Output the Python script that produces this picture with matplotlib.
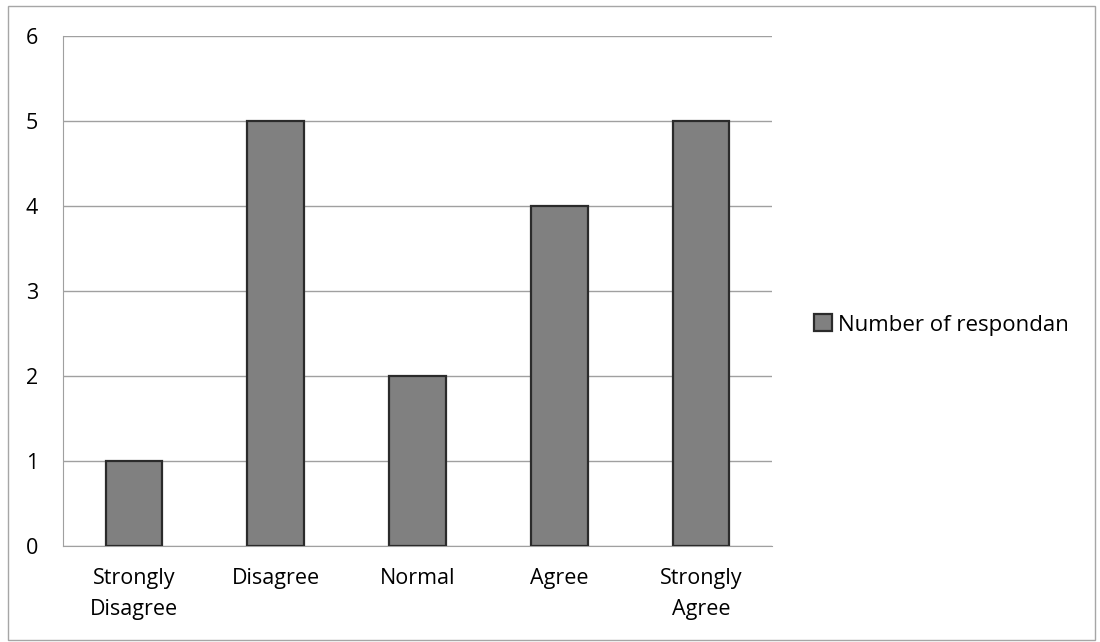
import matplotlib
matplotlib.use("Agg")
import matplotlib.pyplot as plt
from matplotlib.patches import Rectangle

categories = ["Strongly\nDisagree", "Disagree", "Normal", "Agree", "Strongly\nAgree"]
respondents = [1, 5, 2, 4, 5]
yticks = [0, 1, 2, 3, 4, 5, 6]
series_name = "Number of respondan"

plt.rcParams["font.family"] = ["Open Sans", "DejaVu Sans"]

W, H = 1100, 642
fig = plt.figure(figsize=(W / 100, H / 100), dpi=100)
fig.patch.set_facecolor("white")

# outer chart frame
fig.add_artist(Rectangle((8 / W, 1 - 640 / H), (1095 - 8) / W, (640 - 6) / H,
                         transform=fig.transFigure, fill=False,
                         edgecolor="#a6a6a6", linewidth=1.0))

left, right, top, bottom = 63, 772, 36, 546
ax = fig.add_axes([left / W, 1 - bottom / H, (right - left) / W, (bottom - top) / H])

x = list(range(len(categories)))
ax.bar(x, respondents, width=0.40, color="#808080", edgecolor="#2b2b2b",
       linewidth=1.6, label=series_name, zorder=3)

ax.set_xlim(-0.5, len(categories) - 0.5)
ax.set_ylim(0, 6)
ax.set_yticks(yticks)
ax.set_yticklabels([str(t) for t in yticks], fontsize=15.5)
ax.set_xticks(x)
ax.set_xticklabels(categories, fontsize=15.5, linespacing=1.6)
ax.tick_params(axis="both", length=0)
ax.tick_params(axis="y", pad=18)
ax.tick_params(axis="x", pad=16)
ax.yaxis.grid(True, color="#a0a0a0", linewidth=1.0, zorder=0)

for side in ["top", "right"]:
    ax.spines[side].set_visible(False)
ax.spines["left"].set_color("#a0a0a0")
ax.spines["bottom"].set_color("#a0a0a0")

leg = fig.legend(loc="center left", bbox_to_anchor=(794 / W, 1 - 325 / H),
                 frameon=False, fontsize=16, handlelength=0.8, handleheight=0.8,
                 handletextpad=0.3)

fig.savefig("out.png", dpi=100, facecolor="white")
